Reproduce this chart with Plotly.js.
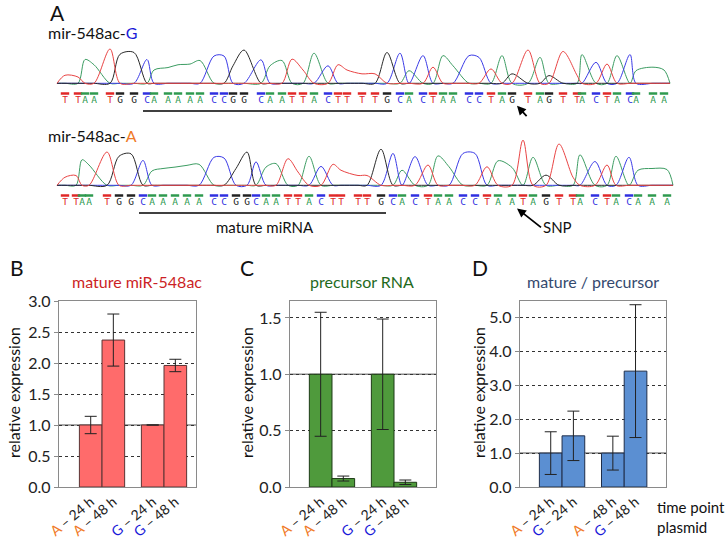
<!DOCTYPE html>
<html><head><meta charset="utf-8">
<script src="https://cdn.plot.ly/plotly-3.0.1.min.js"></script>
<style>html,body{margin:0;padding:0;background:#fff}#plot{width:726px;height:539px}</style>
</head><body><div id="plot"></div>
<script>
// ---------- DATA ----------
// Panel A: Sanger chromatograms (base calls, positions along read, peak heights)
const seqG = "TTAATGGCAAAAACCGGCAATTACTTTTGCACTAACCTAGTAGTTACTACAAA";
const seqA = "TTAATGGCAAAAACCGGCAATTACTTTTGCACTAACCTAATAGTTACTACAAA";
const posG = [65,78,85,94,110,120,134,147,154,168,178,190,200,214,224,233,244,261,270,282,292,303,314,328,338,347,362,375,387,400,409,423,433,443,453,469,479,491,502,512,528,540,549,563,577,582,596,607,617,630,636,653,664];
const posA = [65,76,82,89,107,119,131,143,152,163,175,187,199,214,224,236,247,256,266,276,288,298,309,321,333,341,358,367,381,393,402,415,428,438,449,463,475,487,498,512,523,533,546,559,573,580,595,607,616,629,638,652,667];
const htsG = [0.25,0.2,0.7,0.55,1.0,0.85,0.9,0.7,0.4,0.47,0.55,0.57,0.67,0.8,0.8,0.52,0.97,0.69,0.52,0.67,0.71,0.4,0.88,0.52,0.55,0.4,0.29,0.29,0.9,0.88,0.38,0.81,0.48,0.81,0.52,0.81,0.76,0.43,0.81,0.29,0.97,0.76,0.24,0.93,0.25,0.84,0.62,0.57,0.81,0.84,0.38,0.48,0.4];
const htsA = [0.25,0.3,0.75,0.6,0.97,0.85,0.92,0.73,0.43,0.5,0.54,0.59,0.62,0.82,0.8,0.5,0.97,0.69,0.54,0.64,0.78,0.4,0.85,0.56,0.62,0.45,0.3,0.3,1.05,0.93,0.45,0.84,0.6,0.86,0.55,0.93,0.93,0.55,0.72,0.53,1.31,0.82,0.31,1.2,0.25,0.89,0.7,0.6,0.85,0.82,0.45,0.5,0.47];
const snpIndex = 39;
const matureStart = 7, matureEnd = 28;

// Panels B-D: qPCR relative expression
const plasmidBC = ["A","A","G","G"];
const timeBC = ["24 h","48 h","24 h","48 h"];
const matureVal = [1.0, 2.37, 1.0, 1.96];
const matureErr = [0.14, 0.42, 0.0, 0.10];
const precursorVal = [1.0, 0.075, 1.0, 0.042];
const precursorErr = [0.55, 0.022, 0.49, 0.02];
const plasmidD = ["A","G","A","G"];
const timeD = ["24 h","24 h","48 h","48 h"];
const ratioVal = [1.0, 1.51, 1.0, 3.42];
const ratioErr = [0.63, 0.73, 0.5, 1.96];

// ---------- STYLE / LAYOUT HELPERS ----------
const W = 726, H = 539;
const FONT = 'Lato, "Open Sans", sans-serif';
const baseColor = {A:'#2f9a4f', C:'#2f2fe0', G:'#222222', T:'#e02828'};
const traceColor = {A:'#3c9c62', C:'#3b3be6', G:'#2a2a2a', T:'#e84444'};
const plasmidColor = {A:'#f07a28', G:'#1a1ad8'};
function P(x, y) { return {xref:'paper', yref:'paper', x: x / W, y: 1 - y / H}; }
function domY(top, bottom) { return [1 - bottom / H, 1 - top / H]; }
function domX(l, r) { return [l / W, r / W]; }

const traces = [];
const shapes = [];
const annotations = [];

// chromatogram traces
function chromatogram(seq, pos, hts, yax) {
  ['A','C','G','T'].forEach(ch => {
    const xs = [pos[0] - 8].concat(pos, [pos[pos.length - 1] + 6]);
    const ys = [0.02].concat(pos.map((p, i) => seq[i] === ch ? hts[i] : 0.02), [0.02]);
    traces.push({type:'scatter', mode:'lines', x: xs, y: ys, xaxis:'x', yaxis: yax,
      line:{color: traceColor[ch], width: 1, shape:'spline', smoothing: 0.9}, hoverinfo:'skip', showlegend:false});
  });
  const chars = seq.split('');
  traces.push({type:'scatter', mode:'markers', x: pos, y: pos.map(() => -0.27), xaxis:'x', yaxis: yax,
    marker:{symbol:'line-ew', size:6, line:{width:2.5, color: chars.map(c => baseColor[c])}}, showlegend:false, hoverinfo:'skip'});
  traces.push({type:'scatter', mode:'text', x: pos, y: pos.map(() => -0.47), xaxis:'x', yaxis: yax,
    text: chars, textfont:{family:'"DejaVu Sans Mono", monospace', size:9.5, color: chars.map(c => baseColor[c])},
    showlegend:false, hoverinfo:'skip'});
  shapes.push({type:'line', xref:'x', yref: yax, x0: pos[matureStart] - 4, x1: pos[matureEnd] + 5, y0: -0.77, y1: -0.77,
    line:{color:'#000', width:1.5}});
}
chromatogram(seqG, posG, htsG, 'y');
chromatogram(seqA, posA, htsA, 'y2');

// bar panels
const BARW = 0.365;
function slotX(groupIdx, k) { return groupIdx + (k === 0 ? -BARW / 2 : BARW / 2); }
function barPanel(ax, vals, errs, plasmids, times, fill, outline) {
  const xs = vals.map((v, i) => slotX(Math.floor(i / 2), i % 2));
  traces.push({type:'bar', x: xs, y: vals, width: BARW, xaxis:'x' + ax, yaxis:'y' + ax,
    marker:{color: fill, line:{color: outline, width: 1}},
    error_y:{type:'data', array: errs, visible:true, color:'#222', thickness:1, width:6},
    showlegend:false, hoverinfo:'skip'});
  shapes.push({type:'line', xref:'x' + ax + ' domain', yref:'y' + ax, x0:0, x1:1, y0:1, y1:1,
    line:{color:'#8a8a8a', width:1.5}, layer:'below'});
  return {tickvals: xs, ticktext: plasmids.map((p, i) => '<span style="color:' + plasmidColor[p] + '">' + p + '</span> – ' + times[i])};
}
const tB = barPanel(3, matureVal, matureErr, plasmidBC, timeBC, '#ff6b6b', '#5a3434');
const tC = barPanel(4, precursorVal, precursorErr, plasmidBC, timeBC, '#4f9a3c', '#1d3a16');
const tD = barPanel(5, ratioVal, ratioErr, plasmidD, timeD, '#5b8fd2', '#1f2e4a');

function xBar(dom, rng, t, anchor) {
  return {domain: dom, range: rng, anchor: anchor, showgrid:false, zeroline:false, showline:true, mirror:true,
    linecolor:'#8a8a8a', linewidth:1.2, ticks:'', tickvals: t.tickvals, ticktext: t.ticktext, tickangle:-40,
    tickfont:{family:FONT, size:14, color:'#222'}, fixedrange:true};
}
function yBar(dom, rng, tickvals, anchor) {
  return {domain: dom, range: rng, anchor: anchor, showgrid:true, griddash:'dot', gridcolor:'#333', gridwidth:1,
    zeroline:false, showline:true, mirror:true, linecolor:'#8a8a8a', linewidth:1.2, ticks:'outside', ticklen:4,
    tickcolor:'#8a8a8a', tickvals: tickvals, ticktext: tickvals.map(v => v.toFixed(1)),
    tickfont:{family:FONT, size:16, color:'#222'}, fixedrange:true};
}
const barDomY = domY(301, 487);

// text annotations
function txt(text, x, y, size, color, extra) {
  annotations.push(Object.assign(P(x, y), {text: text, showarrow:false, xanchor:'center', yanchor:'middle',
    font:{family:FONT, size:size, color:color || '#111'}}, extra || {}));
}
txt('A', 57, 13, 21, '#111');
txt('B', 17, 267, 21, '#111');
txt('C', 247, 267, 21, '#111');
txt('D', 480, 267, 21, '#111');
txt('mir-548ac-<span style="color:#1a1ad8">G</span>', 46, 33, 16, '#111', {xanchor:'left'});
txt('mir-548ac-<span style="color:#f07a28">A</span>', 46, 136, 16, '#111', {xanchor:'left'});
txt('mature miRNA', 265, 227, 15, '#111');
txt('mature miR-548ac', 137, 281, 16, '#cc1f26');
txt('precursor RNA', 362, 281, 16, '#1f6a1d');
txt('mature / precursor', 593, 281, 16, '#34496e');
[13, 246, 478].forEach(x => txt('relative expression', x, 393, 16, '#111', {textangle:-90}));
txt('time point', 655, 507, 15, '#111', {xanchor:'left'});
txt('plasmid', 655, 527, 15, '#111', {xanchor:'left'});

// SNP arrows
annotations.push({xref:'x', yref:'y', x: posG[snpIndex] + 5, y: -0.62, ax: 11, ay: 12, text:'', showarrow:true,
  arrowhead:2, arrowsize:1, arrowwidth:1.8, arrowcolor:'#000'});
annotations.push({xref:'x', yref:'y2', x: posA[snpIndex] + 5, y: -0.64, ax: 24, ay: 19, text:'SNP', showarrow:true,
  arrowhead:2, arrowsize:1, arrowwidth:1.8, arrowcolor:'#000', xanchor:'left', yanchor:'middle', font:{family:FONT, size:15, color:'#111'}});

const layout = {
  width: W, height: H, margin:{l:0, r:0, t:0, b:0}, paper_bgcolor:'#fff', plot_bgcolor:'rgba(0,0,0,0)',
  showlegend:false, font:{family:FONT},
  xaxis:{domain:[0,1], range:[0, W], visible:false, fixedrange:true},
  yaxis:{domain: domY(35, 113.75), range:[-0.85, 1.4], visible:false, fixedrange:true, anchor:'x'},
  yaxis2:{domain: domY(137, 215.75), range:[-0.85, 1.4], visible:false, fixedrange:true, anchor:'x'},
  xaxis3: xBar(domX(59, 196), [-0.694, 1.516], tB, 'y3'),
  yaxis3: yBar(barDomY, [0, 3.0], [0,0.5,1,1.5,2,2.5,3], 'x3'),
  xaxis4: xBar(domX(290, 436), [-0.677, 1.677], tC, 'y4'),
  yaxis4: yBar(barDomY, [0, 1.65], [0,0.5,1,1.5], 'x4'),
  xaxis5: xBar(domX(520, 666), [-0.677, 1.673], tD, 'y5'),
  yaxis5: yBar(barDomY, [0, 5.49], [0,1,2,3,4,5], 'x5'),
  shapes: shapes, annotations: annotations
};
Plotly.newPlot('plot', traces, layout, {staticPlot:true, displayModeBar:false});
</script></body></html>
